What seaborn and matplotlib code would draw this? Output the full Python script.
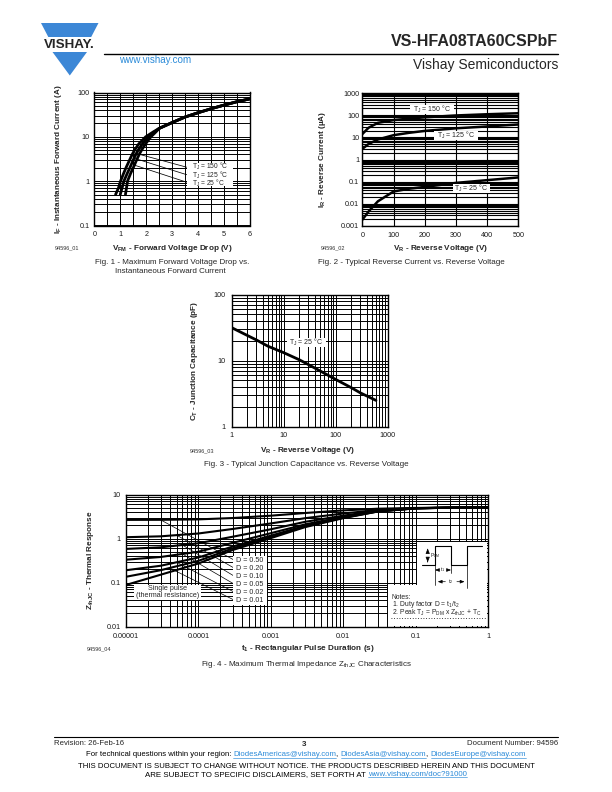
import numpy as np
import pandas as pd
import matplotlib
matplotlib.use("Agg")
import matplotlib.pyplot as plt
import seaborn as sns
from matplotlib.ticker import LogLocator, NullFormatter, NullLocator, MultipleLocator
from matplotlib.patches import Polygon, Rectangle

sns.set_style("white")
plt.rcParams['font.family'] = ['Liberation Sans', 'DejaVu Sans']
plt.rcParams['mathtext.fontset'] = 'custom'
plt.rcParams['mathtext.rm'] = 'Liberation Sans'
plt.rcParams['mathtext.it'] = 'Liberation Sans:italic'
plt.rcParams['mathtext.bf'] = 'Liberation Sans:bold'

# ---------------- Fig. 1 data (forward characteristics) ----------------
fig1_I_low = [0.5, 0.7, 1.0, 1.5, 2.0, 3.0, 4.0, 5.0, 7.0, 10.0, 13.0]
fig1_V_150 = [0.82, 0.93, 1.01, 1.13, 1.22, 1.36, 1.46, 1.55, 1.72, 1.98, 2.28]
fig1_V_125 = [1.00, 1.07, 1.14, 1.27, 1.37, 1.50, 1.60, 1.69, 1.86, 2.08, 2.33]
fig1_V_25 = [1.20, 1.24, 1.28, 1.40, 1.50, 1.63, 1.73, 1.82, 1.98, 2.18, 2.38]
fig1_V_tail = [2.5, 3.0, 3.5, 4.0, 4.5, 5.0, 5.5, 6.0]
fig1_I_tail = [15.5, 21.0, 28.0, 35.0, 43.0, 52.0, 62.0, 72.0]
fig1_series = ['150', '125', '25']
fig1_xticks = [0, 1, 2, 3, 4, 5, 6]
fig1_yticks = [0.1, 1, 10, 100]
fig1_ylabels = ['0.1', '1', '10', '100']

# ---------------- Fig. 2 data (reverse current) ----------------
fig2_VR = [0, 20, 50, 100, 150, 200, 300, 400, 500]
fig2_IR_150 = [14.0, 27.0, 45.0, 60.0, 70.0, 80.0, 97.0, 110.0, 122.0]
fig2_IR_125 = [3.0, 5.0, 8.0, 12.5, 16.0, 19.5, 25.5, 31.0, 38.0]
fig2_IR_25 = [0.0019, 0.0045, 0.013, 0.036, 0.048, 0.058, 0.088, 0.117, 0.155]
fig2_xticks = [0, 100, 200, 300, 400, 500]
fig2_yticks = [0.001, 0.01, 0.1, 1, 10, 100, 1000]
fig2_ylabels = ['0.001', '0.01', '0.1', '1', '10', '100', '1000']

# ---------------- Fig. 3 data (junction capacitance) ----------------
fig3_VR = [1, 2, 3, 5, 10, 20, 30, 50, 100, 200, 300, 600]
fig3_CT = [31.5, 24.0, 20.5, 16.5, 13.2, 10.3, 8.7, 7.0, 5.2, 3.9, 3.25, 2.5]
fig3_xticks = [1, 10, 100, 1000]
fig3_xlabels = ['1', '10', '100', '1000']
fig3_yticks = [1, 10, 100]
fig3_ylabels = ['1', '10', '100']

# ---------------- Fig. 4 data (thermal impedance) ----------------
fig4_t = [1e-5, 3e-5, 1e-4, 3e-4, 1e-3, 3e-3, 1e-2, 3e-2, 1e-1, 3e-1, 1.0]
fig4_D050 = [2.65, 2.66, 2.72, 2.92, 3.30, 3.80, 4.35, 4.75, 4.95, 5.05, 5.10]
fig4_D020 = [1.07, 1.12, 1.30, 1.65, 2.20, 2.90, 3.70, 4.45, 4.90, 5.03, 5.10]
fig4_D010 = [0.58, 0.63, 0.78, 1.10, 1.62, 2.40, 3.30, 4.30, 4.88, 5.02, 5.10]
fig4_D005 = [0.33, 0.38, 0.50, 0.80, 1.32, 2.10, 3.10, 4.20, 4.86, 5.02, 5.10]
fig4_D002 = [0.19, 0.24, 0.37, 0.66, 1.16, 1.95, 3.00, 4.15, 4.85, 5.01, 5.10]
fig4_D001 = [0.135, 0.19, 0.31, 0.60, 1.08, 1.88, 2.95, 4.12, 4.85, 5.01, 5.10]
fig4_single = [0.088, 0.15, 0.27, 0.55, 1.02, 1.82, 2.90, 4.10, 4.84, 5.00, 5.10]
fig4_names = ['D = 0.50', 'D = 0.20', 'D = 0.10', 'D = 0.05', 'D = 0.02', 'D = 0.01', 'Single pulse']
fig4_xticks = [1e-5, 1e-4, 1e-3, 1e-2, 1e-1, 1]
fig4_xlabels = ['0.00001', '0.0001', '0.001', '0.01', '0.1', '1']
fig4_yticks = [0.01, 0.1, 1, 10]
fig4_ylabels = ['0.01', '0.1', '1', '10']

W, H = 612, 792
BLUE = '#3c87d6'
LINK = '#2a8ad8'
fig = plt.figure(figsize=(W / 100, H / 100), dpi=100)
ov = fig.add_axes([0, 0, 1, 1], zorder=10)
ov.set_xlim(0, W)
ov.set_ylim(H, 0)
ov.axis('off')
ov.patch.set_alpha(0)


def add_ax(l, t, r, b):
    return fig.add_axes([l / W, 1 - b / H, (r - l) / W, (b - t) / H])


def style(ax, xpad=4.0, ypad=3.5, glw=0.7):
    ax.grid(True, which='both', color='black', lw=glw)
    ax.set_axisbelow(True)
    ax.tick_params(which='both', length=0, labelsize=5.2, labelcolor='#1a1a1a')
    ax.tick_params(axis='x', pad=xpad)
    ax.tick_params(axis='y', pad=ypad)
    for s in ax.spines.values():
        s.set_color('black')
        s.set_linewidth(1.0)
    ax.set_xlabel('')
    ax.set_ylabel('')


def logminor(axis):
    axis.set_minor_locator(LogLocator(base=10, subs=np.arange(2, 10)))
    axis.set_minor_formatter(NullFormatter())


# ================= Fig. 1 =================
ax1 = add_ax(94.3, 92.5, 250, 225.5)
rows = []
for name, v in zip(fig1_series, [fig1_V_150, fig1_V_125, fig1_V_25]):
    rows.append(pd.DataFrame({'V': v + fig1_V_tail, 'I': fig1_I_low + fig1_I_tail, 'Tj': name}))
df1 = pd.concat(rows, ignore_index=True)
sns.lineplot(data=df1, x='V', y='I', units='Tj', estimator=None, color='black',
             lw=2.0, sort=False, ax=ax1)
ax1.set_yscale('log')
ax1.set_xlim(0, 6)
ax1.set_ylim(0.1, 100)
ax1.set_xticks(fig1_xticks)
ax1.set_xticklabels([str(v) for v in fig1_xticks])
ax1.xaxis.set_minor_locator(MultipleLocator(0.5))
ax1.set_yticks(fig1_yticks)
ax1.set_yticklabels(fig1_ylabels)
logminor(ax1.yaxis)
style(ax1)

# ================= Fig. 2 =================
ax2 = add_ax(362.3, 93, 518.3, 226)
df2 = pd.concat([pd.DataFrame({'VR': fig2_VR, 'IR': y, 'Tj': n}) for n, y in
                 zip(['150', '125', '25'], [fig2_IR_150, fig2_IR_125, fig2_IR_25])], ignore_index=True)
sns.lineplot(data=df2, x='VR', y='IR', units='Tj', estimator=None, color='black',
             lw=1.8, ax=ax2)
ax2.set_yscale('log')
ax2.set_xlim(0, 500)
ax2.set_ylim(0.001, 1000)
ax2.set_xticks(fig2_xticks)
ax2.set_xticklabels([str(v) for v in fig2_xticks])
ax2.xaxis.set_minor_locator(NullLocator())
ax2.set_yticks(fig2_yticks)
ax2.set_yticklabels(fig2_ylabels)
logminor(ax2.yaxis)
style(ax2, ypad=2.2, glw=0.8)

# ================= Fig. 3 =================
ax3 = add_ax(231.7, 294.5, 387.5, 426.7)
df3 = pd.DataFrame({'VR': fig3_VR, 'CT': fig3_CT})
sns.lineplot(data=df3, x='VR', y='CT', estimator=None, color='black', lw=2.0, ax=ax3)
ax3.set_xscale('log')
ax3.set_yscale('log')
ax3.set_xlim(1, 1000)
ax3.set_ylim(1, 100)
ax3.set_xticks(fig3_xticks)
ax3.set_xticklabels(fig3_xlabels)
ax3.set_yticks(fig3_yticks)
ax3.set_yticklabels(fig3_ylabels)
logminor(ax3.xaxis)
logminor(ax3.yaxis)
style(ax3, ypad=4.3)

# ================= Fig. 4 =================
ax4 = add_ax(126, 494.5, 488, 626.5)
curves4 = [fig4_D050, fig4_D020, fig4_D010, fig4_D005, fig4_D002, fig4_D001, fig4_single]
df4 = pd.concat([pd.DataFrame({'t': fig4_t, 'Z': z, 'D': n}) for n, z in zip(fig4_names, curves4)],
                ignore_index=True)
sns.lineplot(data=df4, x='t', y='Z', units='D', estimator=None, color='black', lw=1.5, ax=ax4)
ax4.set_xscale('log')
ax4.set_yscale('log')
ax4.set_xlim(1e-5, 1)
ax4.set_ylim(0.01, 10)
ax4.set_xticks(fig4_xticks)
ax4.set_xticklabels(fig4_xlabels)
ax4.set_yticks(fig4_yticks)
ax4.set_yticklabels(fig4_ylabels)
logminor(ax4.xaxis)
logminor(ax4.yaxis)
style(ax4, xpad=5.0, ypad=3.8)


def d2p(ax, x, y):
    dx, dy = ax.transData.transform((x, y))
    return dx, H - dy


def T(x, y, s, size=5.2, ha='left', va='center', **kw):
    return ov.text(x, y, s, fontsize=size, ha=ha, va=va, **kw)


# ---------- Fig.1 annotations ----------
lead_I = [4.4, 3.3, 2.3]
lab_y1 = [167.2, 174.7, 182.2]
for v, iv, ly in zip([fig1_V_150, fig1_V_125, fig1_V_25], lead_I, lab_y1):
    vv = np.interp(np.log10(iv), np.log10(fig1_I_low), v)
    px, py = d2p(ax1, vv, iv)
    ov.plot([px, 186.7], [py, ly], color='black', lw=0.55, zorder=1)
ov.add_patch(Rectangle((186.7, 162.8), 46, 23.5, facecolor='white', edgecolor='none', zorder=2))
T(191.5, 175.2, '\n'.join('T$_\\mathregular{J}$ = %s °C' % lab for lab in fig1_series),
  size=4.75, linespacing=0.66, zorder=3)

# ---------- Fig.2 annotations ----------
for cx, cy, w, lab in [(431.7, 109.3, 44, '150'), (456, 135, 44, '125'), (471, 188.3, 37, '25')]:
    ov.add_patch(Rectangle((cx - w / 2, cy - 4.5), w, 9, facecolor='white', edgecolor='none', zorder=2))
    T(cx, cy, 'T$_\\mathregular{J}$ = %s °C' % lab, size=5.0, ha='center', zorder=3)

# ---------- Fig.3 annotation ----------
ov.add_patch(Rectangle((286.7, 338), 39, 9, facecolor='white', edgecolor='none', zorder=2))
T(306.2, 342.5, 'T$_\\mathregular{J}$ = 25 °C', size=5.0, ha='center', zorder=3)

# ---------- Fig.4 annotations ----------
lead_t = [3e-5, 5e-5, 6e-5, 6e-5, 5e-5, 4e-5]
lab_y4 = [560, 568, 576, 584, 592, 600]
for z, tt, ly in zip(curves4[:6], lead_t, lab_y4):
    zz = 10 ** np.interp(np.log10(tt), np.log10(fig4_t), np.log10(z))
    px, py = d2p(ax4, tt, zz)
    ov.plot([px, 234], [py, ly], color='black', lw=0.5, zorder=1)
ov.add_patch(Rectangle((233, 555.5), 33.5, 49, facecolor='white', edgecolor='none', zorder=2))
for n, ly in zip(fig4_names[:6], lab_y4):
    T(235.5, ly, n, size=5.1, zorder=3)
ov.add_patch(Rectangle((134, 584.5), 66.5, 15, facecolor='white', edgecolor='none', zorder=2))
T(167.2, 588.4, 'Single pulse', size=5.1, ha='center', zorder=3)
T(167.2, 595.8, '(thermal resistance)', size=5.1, ha='center', zorder=3)

# notes box with waveform
ov.add_patch(Polygon([(416.7, 541.7), (487.4, 541.7), (487.4, 625.9), (388, 625.9), (388, 585),
                      (416.7, 585)], closed=True, facecolor='white', edgecolor='none', zorder=2))
wx = [421.7, 435, 435, 451, 451, 467.3, 467.3, 482.3]
wy = [565, 565, 545.7, 545.7, 565, 565, 545.7, 545.7]
ov.plot(wx, wy, color='black', lw=0.8, zorder=3)
ov.annotate('', xy=(427.7, 545.7), xytext=(427.7, 552), arrowprops=dict(arrowstyle='-|>,head_width=0.12,head_length=0.3', lw=0.5, color='black'), zorder=3)
ov.annotate('', xy=(427.7, 565), xytext=(427.7, 559), arrowprops=dict(arrowstyle='-|>,head_width=0.12,head_length=0.3', lw=0.5, color='black'), zorder=3)
T(429.5, 555.5, 'P$_\\mathregular{DM}$', size=3.6, zorder=3)
ov.plot([435, 435], [565, 585], color='black', lw=0.5, zorder=3)
ov.plot([451, 451], [565, 573], color='black', lw=0.5, zorder=3)
ov.plot([467.3, 467.3], [565, 588], color='black', lw=0.5, zorder=3)
for x0, x1, yy, lab in [(435, 451, 570, 't$_1$'), (435, 467.3, 581.7, 't$_2$')]:
    xm = (x0 + x1) / 2
    ov.annotate('', xy=(x0, yy), xytext=(xm - 3, yy), arrowprops=dict(arrowstyle='-|>,head_width=0.1,head_length=0.25', lw=0.5, color='black'), zorder=3)
    ov.annotate('', xy=(x1, yy), xytext=(xm + 3, yy), arrowprops=dict(arrowstyle='-|>,head_width=0.1,head_length=0.25', lw=0.5, color='black'), zorder=3)
    T(xm, yy, lab, size=3.8, ha='center', zorder=4)
notes = ['Notes:',
         '1. Duty factor D = t$_\\mathregular{1}$/t$_\\mathregular{2}$',
         '2. Peak T$_\\mathregular{J}$ = P$_\\mathregular{DM}$ x Z$_\\mathregular{thJC}$ + T$_\\mathregular{C}$']
T(391.5, 605.8, '\n'.join(notes), size=4.9, linespacing=0.74, zorder=3)
ov.plot([391, 487], [617.8, 617.8], color='black', lw=0.6, ls=(0, (1, 2.2)), zorder=3)

# ---------- axis titles, ids, captions ----------
B = dict(fontweight='bold')
CAP = 5.8
T(172, 248, '$\\mathbf{V_{FM}}$ - Forward Voltage Drop (V)', size=5.9, ha='center', **B)
T(59, 159, '$\\mathbf{I_F}$ - Instantaneous Forward Current (A)', size=5.9, ha='center', rotation=90, **B)
T(55, 247.5, '94596_01', size=4.0, color='#333333')
T(172, 262.5, 'Fig. 1 - Maximum Forward Voltage Drop vs.', size=CAP, ha='center')
T(170, 271.5, 'Instantaneous Forward Current', size=CAP, ha='center')

T(441, 248, '$\\mathbf{V_R}$ - Reverse Voltage (V)', size=5.9, ha='center', **B)
T(323, 159, '$\\mathbf{I_R}$ - Reverse Current (µA)', size=5.9, ha='center', rotation=90, **B)
T(321, 247.5, '94596_02', size=4.0, color='#333333')
T(411, 263, 'Fig. 2 - Typical Reverse Current vs. Reverse Voltage', size=CAP, ha='center')

T(308, 450.5, '$\\mathbf{V_R}$ - Reverse Voltage (V)', size=5.9, ha='center', **B)
T(194, 361, '$\\mathbf{C_T}$ - Junction Capacitance (pF)', size=5.9, ha='center', rotation=90, **B)
T(190, 451, '94596_03', size=4.0, color='#333333')
T(306, 465, 'Fig. 3 - Typical Junction Capacitance vs. Reverse Voltage', size=CAP, ha='center')

T(308, 648.5, '$\\mathbf{t_1}$ - Rectangular Pulse Duration (s)', size=5.9, ha='center', **B)
T(90, 560, '$\\mathbf{Z_{thJC}}$ - Thermal Response', size=5.9, ha='center', rotation=90, **B)
T(87, 649, '94596_04', size=4.0, color='#333333')
T(306, 664, 'Fig. 4 - Maximum Thermal Impedance Z$_\\mathregular{thJC}$ Characteristics', size=CAP, ha='center')

# ---------- header ----------
ov.add_patch(Polygon([(41, 23), (98.5, 23), (91.2, 37), (48.3, 37)], closed=True, facecolor=BLUE, edgecolor='none'))
ov.add_patch(Polygon([(52.5, 52), (87, 52), (69.8, 75.5)], closed=True, facecolor=BLUE, edgecolor='none'))
T(69.5, 44.8, 'VISHAY.', size=9.6, ha='center', fontweight='bold')
ov.plot([104, 558], [53.5, 53.5], color='black', lw=1.0)
T(558, 42, 'VS-HFA08TA60CSPbF', size=11.5, ha='right', fontweight='bold')
T(558, 64.5, 'Vishay Semiconductors', size=10, ha='right')
T(119.5, 60, 'www.vishay.com', size=7.1, color=LINK)

# ---------- footer ----------
ov.plot([54, 558], [736.5, 736.5], color='black', lw=0.8)
T(54.5, 743.5, 'Revision: 26-Feb-16', size=5.6)
T(304, 744, '3', size=5.8, ha='center', fontweight='bold')
T(558, 743.5, 'Document Number: 94596', size=5.6, ha='right')

renderer = fig.canvas.get_renderer()


def twidth(s, size):
    t = ov.text(0, 0, s + '|', fontsize=size)
    t2 = ov.text(0, 0, '|', fontsize=size)
    w = t.get_window_extent(renderer).width - t2.get_window_extent(renderer).width
    t.remove()
    t2.remove()
    return w


def seq_text(parts, cx, base, size):
    full = ''.join(p for p, _ in parts)
    total = twidth(full, size)
    x0 = cx - total / 2
    prefix = ''
    for s, link in parts:
        xs = x0 + (twidth(prefix, size) if prefix else 0)
        ov.text(xs, base, s, fontsize=size, ha='left', va='baseline', color=LINK if link else 'black')
        if link:
            w = twidth(s, size)
            ov.plot([xs, xs + w], [base + 1.3, base + 1.3], color=LINK, lw=0.45)
        prefix += s


seq_text([('For technical questions within your region: ', False), ('DiodesAmericas@vishay.com', True),
          (', ', False), ('DiodesAsia@vishay.com', True), (', ', False),
          ('DiodesEurope@vishay.com', True)], 306, 756.5, 5.55)
seq_text([('THIS DOCUMENT IS SUBJECT TO CHANGE WITHOUT NOTICE. THE PRODUCTS DESCRIBED HEREIN AND THIS DOCUMENT', False)],
         306, 767.5, 5.6)
seq_text([('ARE SUBJECT TO SPECIFIC DISCLAIMERS, SET FORTH AT ', False), ('www.vishay.com/doc?91000', True)],
         305.7, 776, 5.7)

fig.savefig('out.png', dpi=100)
